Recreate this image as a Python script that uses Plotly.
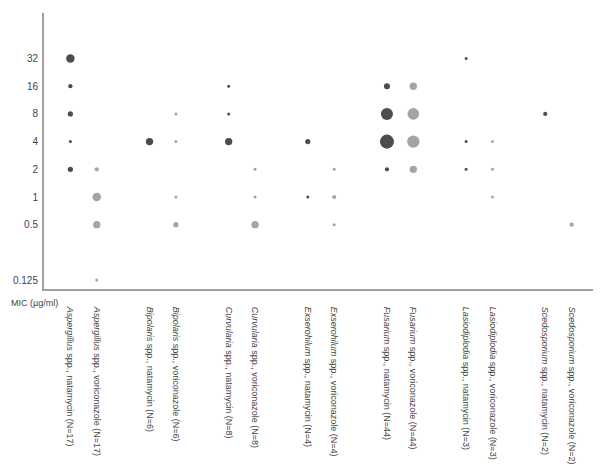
import plotly.graph_objects as go

# MIC tick levels (µg/ml)
mic_ticks = [0.125, 0.5, 1, 2, 4, 8, 16, 32]
mic_tick_labels = ["0.125", "0.5", "1", "2", "4", "8", "16", "32"]

# Categories (genus, drug, N)
genera = ["Aspergillus", "Aspergillus", "Bipolaris", "Bipolaris", "Curvularia", "Curvularia",
          "Exserohilum", "Exserohilum", "Fusarium", "Fusarium", "Lasiodiplodia", "Lasiodiplodia",
          "Scedosporium", "Scedosporium"]
drugs = ["natamycin", "voriconazole"] * 7
n_isolates = [17, 17, 6, 6, 8, 8, 4, 4, 44, 44, 3, 3, 2, 2]

# MIC values observed per category and number of isolates at each MIC
mic_values = [
    [32, 16, 8, 4, 2],        # Aspergillus natamycin
    [2, 1, 0.5, 0.125],       # Aspergillus voriconazole
    [4],                      # Bipolaris natamycin
    [8, 4, 1, 0.5],           # Bipolaris voriconazole
    [16, 8, 4],               # Curvularia natamycin
    [2, 1, 0.5],              # Curvularia voriconazole
    [4, 1],                   # Exserohilum natamycin
    [2, 1, 0.5],              # Exserohilum voriconazole
    [16, 8, 4, 2],            # Fusarium natamycin
    [16, 8, 4, 2],            # Fusarium voriconazole
    [32, 4, 2],               # Lasiodiplodia natamycin
    [4, 2, 1],                # Lasiodiplodia voriconazole
    [8],                      # Scedosporium natamycin
    [0.5],                    # Scedosporium voriconazole
]
counts = [
    [8, 2, 3, 1, 3],
    [2, 8, 6, 1],
    [6],
    [1, 1, 1, 3],
    [1, 1, 6],
    [1, 1, 6],
    [3, 1],
    [1, 2, 1],
    [4, 16, 22, 2],
    [6, 15, 17, 6],
    [1, 1, 1],
    [1, 1, 1],
    [2],
    [2],
]

# category slots: pairs separated by an empty slot
slots = [i + i // 2 for i in range(len(genera))]
labels = [f"<i>{g}</i> spp., {d} (N={n})" for g, d, n in zip(genera, drugs, n_isolates)]

colors = {"natamycin": "#000000", "voriconazole": "#7d7d7d"}

fig = go.Figure()
for drug in ["natamycin", "voriconazole"]:
    xs, ys, ss = [], [], []
    for slot, d, mv, cv in zip(slots, drugs, mic_values, counts):
        if d != drug:
            continue
        xs += [slot] * len(mv)
        ys += mv
        ss += cv
    fig.add_trace(go.Scatter(
        x=xs, y=ys, mode="markers", name=drug,
        marker=dict(size=ss, sizemode="area", sizeref=0.2222, color=colors[drug],
                    line=dict(width=0)),
        showlegend=False,
    ))

fig.update_layout(
    width=593, height=466,
    margin=dict(l=36, r=3, t=5, b=185),
    paper_bgcolor="white", plot_bgcolor="white",
    font=dict(family="Liberation Sans, Arial, sans-serif", color="#444444"),
    xaxis=dict(range=[-1, 20], tickmode="array", tickvals=slots, ticktext=labels,
               tickangle=90, tickfont=dict(size=9, color="#444444"),
               showline=True, linecolor="#a0a0a0", linewidth=2, mirror=False,
               showgrid=False, zeroline=False, ticks="", automargin=False,
               ticklabelstandoff=14),
    yaxis=dict(type="log", range=[-1, 2], tickmode="array", tickvals=mic_ticks,
               ticktext=mic_tick_labels, tickfont=dict(size=10, color="#444444"),
               showline=True, linecolor="#a0a0a0", linewidth=2,
               showgrid=False, zeroline=False, ticks="", automargin=False,
               ticklabelstandoff=2),
    annotations=[dict(text="MIC (µg/ml)", xref="paper", yref="paper", x=-0.063, y=-0.025,
                      xanchor="left", yanchor="top", showarrow=False,
                      font=dict(size=9, color="#444444"))],
)

fig.write_html("out.html")
